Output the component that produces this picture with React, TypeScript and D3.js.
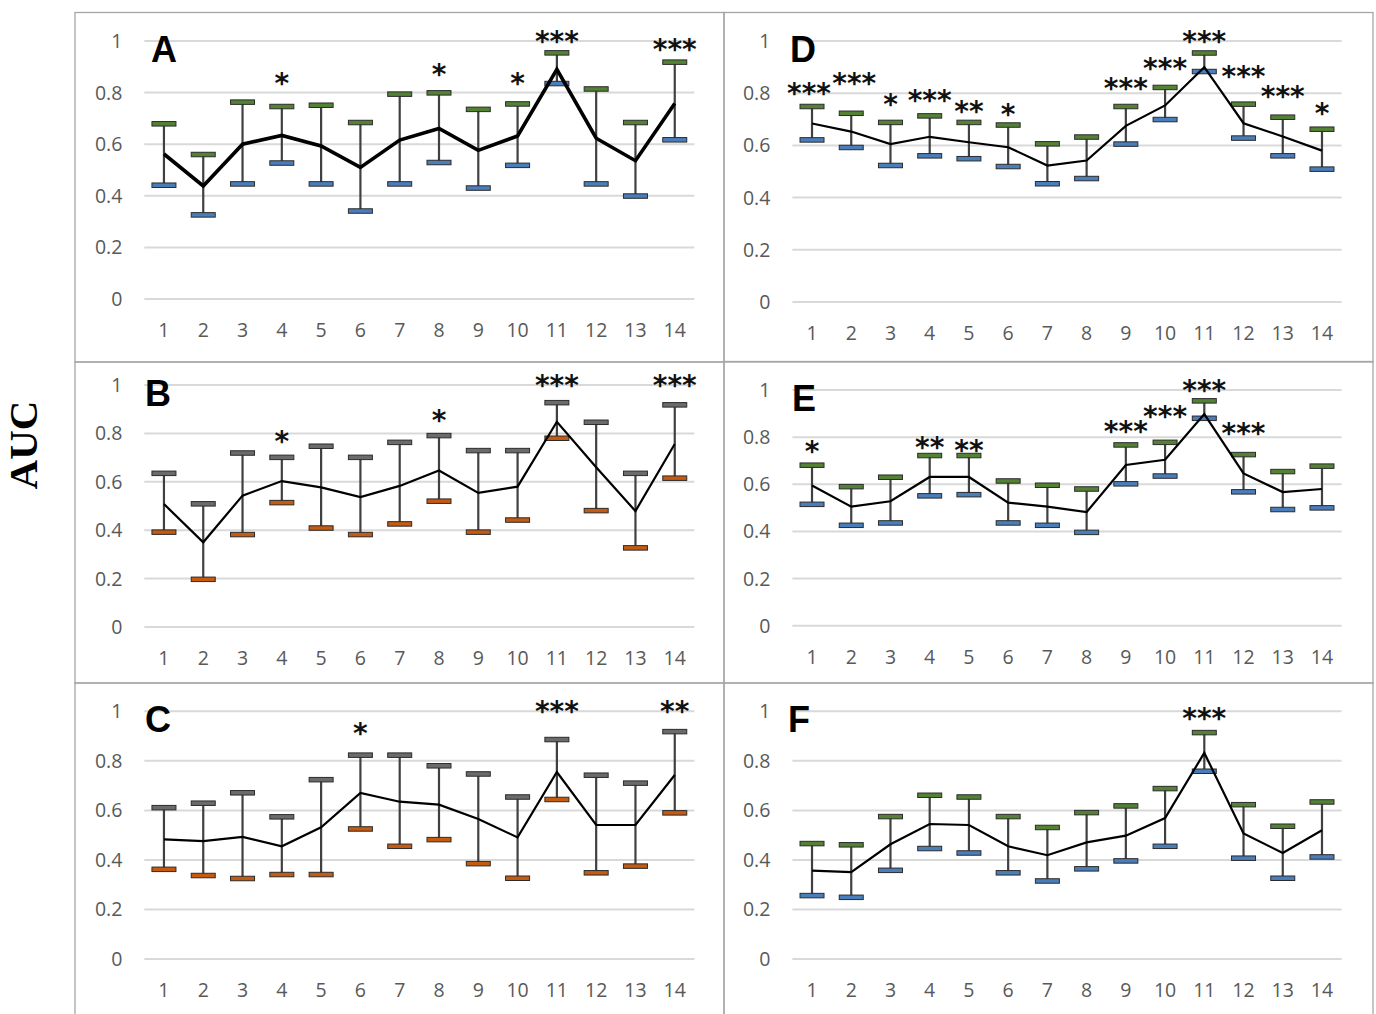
import * as d3 from 'd3';

const categories = ['1', '2', '3', '4', '5', '6', '7', '8', '9', '10', '11', '12', '13', '14'];
const yTicks = [0, 0.2, 0.4, 0.6, 0.8, 1];

// A
const aMean = [0.562, 0.438, 0.6, 0.634, 0.593, 0.51, 0.616, 0.661, 0.576, 0.632, 0.89, 0.623, 0.536, 0.758];
const aUpper = [0.68, 0.561, 0.764, 0.747, 0.752, 0.685, 0.795, 0.8, 0.736, 0.757, 0.955, 0.815, 0.685, 0.919];
const aLower = [0.442, 0.327, 0.447, 0.528, 0.447, 0.342, 0.447, 0.53, 0.431, 0.519, 0.836, 0.447, 0.4, 0.618];
const aStars = ['', '', '', '*', '', '', '', '*', '', '*', '***', '', '', '***'];
const aStarAt = [0, 0, 0, 0.855, 0, 0, 0, 0.89, 0, 0.855, 1.019, 0, 0, 0.987];

// B
const bMean = [0.508, 0.35, 0.543, 0.603, 0.577, 0.537, 0.583, 0.647, 0.554, 0.58, 0.848, 0.66, 0.479, 0.756];
const bUpper = [0.636, 0.51, 0.72, 0.702, 0.748, 0.702, 0.764, 0.792, 0.73, 0.73, 0.928, 0.847, 0.636, 0.919];
const bLower = [0.393, 0.198, 0.383, 0.515, 0.41, 0.383, 0.427, 0.521, 0.393, 0.443, 0.781, 0.482, 0.328, 0.616];
const bStars = ['', '', '', '*', '', '', '', '*', '', '', '***', '', '', '***'];
const bStarAt = [0, 0, 0, 0.787, 0, 0, 0, 0.876, 0, 0, 1.018, 0, 0, 1.018];

// C
const cMean = [0.483, 0.476, 0.493, 0.455, 0.532, 0.67, 0.635, 0.623, 0.565, 0.491, 0.755, 0.541, 0.541, 0.743];
const cUpper = [0.612, 0.63, 0.672, 0.575, 0.725, 0.824, 0.824, 0.781, 0.748, 0.655, 0.887, 0.743, 0.711, 0.919];
const cLower = [0.363, 0.338, 0.326, 0.342, 0.342, 0.526, 0.456, 0.483, 0.386, 0.327, 0.645, 0.349, 0.376, 0.591];
const cStars = ['', '', '', '', '', '*', '', '', '', '', '***', '', '', '**'];
const cStarAt = [0, 0, 0, 0, 0, 0.929, 0, 0, 0, 0, 1.02, 0, 0, 1.02];

// D
const dMean = [0.684, 0.653, 0.605, 0.633, 0.612, 0.593, 0.523, 0.542, 0.675, 0.753, 0.9, 0.685, 0.634, 0.58];
const dUpper = [0.75, 0.724, 0.689, 0.714, 0.689, 0.679, 0.607, 0.633, 0.75, 0.823, 0.955, 0.759, 0.709, 0.663];
const dLower = [0.622, 0.593, 0.524, 0.561, 0.55, 0.52, 0.454, 0.474, 0.606, 0.7, 0.884, 0.629, 0.561, 0.51];
const dStars = ['***', '***', '*', '***', '**', '*', '', '', '***', '***', '***', '***', '***', '*'];
const dStarAt = [0.819, 0.857, 0.776, 0.793, 0.751, 0.736, 0, 0, 0.836, 0.915, 1.017, 0.883, 0.806, 0.74];

// E
const eMean = [0.595, 0.505, 0.528, 0.631, 0.631, 0.522, 0.505, 0.482, 0.682, 0.704, 0.898, 0.646, 0.567, 0.58];
const eUpper = [0.682, 0.591, 0.631, 0.723, 0.723, 0.615, 0.597, 0.581, 0.768, 0.779, 0.955, 0.727, 0.655, 0.678];
const eLower = [0.516, 0.427, 0.437, 0.552, 0.557, 0.437, 0.427, 0.397, 0.603, 0.636, 0.881, 0.569, 0.494, 0.501];
const eStars = ['*', '', '', '**', '**', '', '', '', '***', '***', '***', '***', '', ''];
const eStarAt = [0.762, 0, 0, 0.779, 0.765, 0, 0, 0, 0.847, 0.908, 1.018, 0.835, 0, 0];

// F
const fMean = [0.357, 0.351, 0.463, 0.545, 0.541, 0.455, 0.419, 0.471, 0.498, 0.569, 0.832, 0.507, 0.428, 0.52];
const fUpper = [0.467, 0.462, 0.576, 0.662, 0.655, 0.576, 0.532, 0.592, 0.619, 0.689, 0.915, 0.624, 0.537, 0.635];
const fLower = [0.257, 0.25, 0.359, 0.447, 0.429, 0.349, 0.316, 0.365, 0.397, 0.456, 0.759, 0.408, 0.327, 0.413];
const fStars = ['', '', '', '', '', '', '', '', '', '', '***', '', '', ''];
const fStarAt = [0, 0, 0, 0, 0, 0, 0, 0, 0, 0, 0.99, 0, 0, 0];

const GREEN = '#548235';
const BLUE = '#4a7ebb';
const GRAY = '#6b6b6b';
const ORANGE = '#c55a11';

const LEFT = { bx0: 75, bx1: 724, px0: 144.3, px1: 694.4 };
const RIGHT = { bx0: 724, bx1: 1373, px0: 792.4, px1: 1341.6 };

const panels = [
  { id: 'A', col: LEFT, by0: 12.5, by1: 362, yTop: 41, yBot: 299, lx: 151, mean: aMean, upper: aUpper, lower: aLower, stars: aStars, starAt: aStarAt, hi: GREEN, lo: BLUE, lw: 3.6 },
  { id: 'B', col: LEFT, by0: 362, by1: 683, yTop: 385, yBot: 627, lx: 145, mean: bMean, upper: bUpper, lower: bLower, stars: bStars, starAt: bStarAt, hi: GRAY, lo: ORANGE, lw: 2.2 },
  { id: 'C', col: LEFT, by0: 683, by1: 1030, yTop: 711.3, yBot: 959, lx: 145, mean: cMean, upper: cUpper, lower: cLower, stars: cStars, starAt: cStarAt, hi: GRAY, lo: ORANGE, lw: 2.2 },
  { id: 'D', col: RIGHT, by0: 12.5, by1: 362, yTop: 41, yBot: 302, lx: 790, mean: dMean, upper: dUpper, lower: dLower, stars: dStars, starAt: dStarAt, hi: GREEN, lo: BLUE, lw: 2.2, nudge: { 0: -3, 1: 3 } },
  { id: 'E', col: RIGHT, by0: 361.5, by1: 683, yTop: 390, yBot: 625.7, lx: 792, mean: eMean, upper: eUpper, lower: eLower, stars: eStars, starAt: eStarAt, hi: GREEN, lo: BLUE, lw: 2.2 },
  { id: 'F', col: RIGHT, by0: 683, by1: 1030, yTop: 711.3, yBot: 959, lx: 788, mean: fMean, upper: fUpper, lower: fLower, stars: fStars, starAt: fStarAt, hi: GREEN, lo: BLUE, lw: 2.2 },
];

function Panel({ p }) {
  const x = d3.scaleBand().domain(categories).range([p.col.px0, p.col.px1]);
  const cx = (c) => x(c) + x.bandwidth() / 2;
  const y = d3.scaleLinear().domain([0, 1]).range([p.yBot, p.yTop]);
  const line = d3.line().x((d, i) => cx(categories[i])).y((d) => y(d));
  const capW = 24;
  const nudge = p.nudge || {};

  return (
    <g>
      <rect x={p.col.bx0} y={p.by0} width={p.col.bx1 - p.col.bx0} height={p.by1 - p.by0}
        fill="none" stroke="#a6a6a6" strokeWidth={1.3} />
      {yTicks.map((t) => (
        <g key={t}>
          <line x1={p.col.px0} x2={p.col.px1} y1={y(t)} y2={y(t)} stroke="#d9d9d9" strokeWidth={2} />
          <text x={p.col.px0 - 22} y={y(t)} dy="0.36em" textAnchor="end" fontSize={19.5}
            fontFamily="'Open Sans', sans-serif" fill="#595959">{String(t)}</text>
        </g>
      ))}
      {categories.map((c) => (
        <text key={c} x={cx(c)} y={p.yBot + 31} dy="0.36em" textAnchor="middle" fontSize={19.5}
          fontFamily="'Open Sans', sans-serif" fill="#595959">{c}</text>
      ))}
      {categories.map((c, i) => (
        <g key={'e' + c}>
          <line x1={cx(c)} x2={cx(c)} y1={y(p.upper[i])} y2={y(p.lower[i])} stroke="#404040" strokeWidth={2.2} />
          <rect x={cx(c) - capW / 2} y={y(p.upper[i]) - 2} width={capW} height={4.5}
            fill={p.hi} stroke="#2b2b2b" strokeWidth={1} />
          <rect x={cx(c) - capW / 2} y={y(p.lower[i]) - 2} width={capW} height={4.5}
            fill={p.lo} stroke="#2b2b2b" strokeWidth={1} />
        </g>
      ))}
      <path d={line(p.mean)} fill="none" stroke="#000" strokeWidth={p.lw} strokeLinejoin="miter" />
      {categories.map((c, i) => p.stars[i] ? (
        <text key={'s' + c} x={cx(c) + (nudge[i] || 0)} y={y(p.starAt[i])} dy="0.52em" textAnchor="middle" fontSize={28}
          fontWeight="bold" fontFamily="'DejaVu Sans', sans-serif" fill="#111">{p.stars[i]}</text>
      ) : null)}
      <text x={p.lx} y={p.yTop + 21} fontSize={36} fontWeight="bold"
        fontFamily="'Liberation Sans', Arial, sans-serif" fill="#000">{p.id}</text>
    </g>
  );
}

export default function App() {
  return (
    <svg width={1376} height={1014} style={{ position: 'absolute', left: 0, top: 0, background: '#fff' }}>
      <rect x={0} y={0} width={1376} height={1014} fill="#fff" />
      {panels.map((p) => <Panel key={p.id} p={p} />)}
      <text transform="translate(37,445) rotate(-90)" textAnchor="middle" fontSize={41} fontWeight="bold"
        fontFamily="'Liberation Serif', 'Times New Roman', serif" fill="#000">AUC</text>
    </svg>
  );
}
